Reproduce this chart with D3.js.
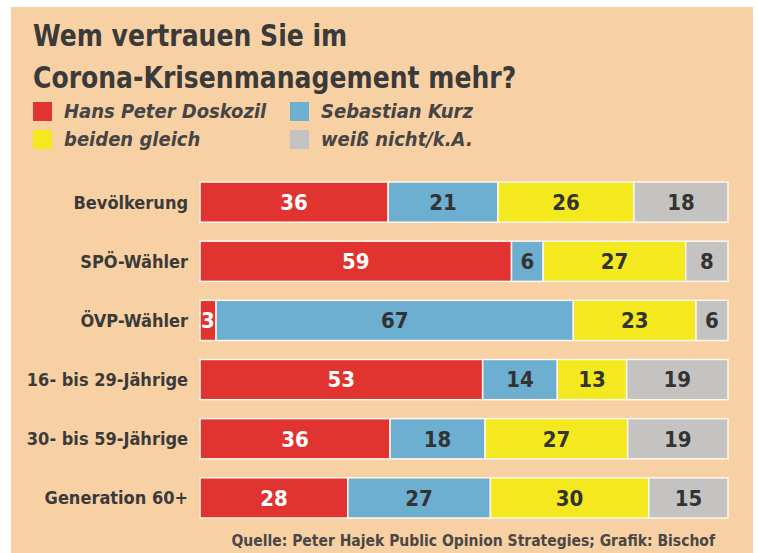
<!DOCTYPE html>
<html>
<head>
<meta charset="utf-8">
<script src="https://cdn.jsdelivr.net/npm/d3@7"></script>
<style>
  html, body { margin: 0; padding: 0; background: #fff; }
  svg text { font-family: "DejaVu Sans Condensed", "DejaVu Sans", sans-serif; font-stretch: condensed; }
</style>
</head>
<body>
<div id="chart"></div>
<script>
var groups = ['Bevölkerung', 'SPÖ-Wähler', 'ÖVP-Wähler', '16- bis 29-Jährige', '30- bis 59-Jährige', 'Generation 60+'],
    keys = ['doskozil', 'kurz', 'gleich', 'weissnicht'],
    keyLabels = ['Hans Peter Doskozil', 'Sebastian Kurz', 'beiden gleich', 'weiß nicht/k.A.'],
    doskozil = [36, 59, 3, 53, 36, 28],
    kurz = [21, 6, 67, 14, 18, 27],
    gleich = [26, 27, 23, 13, 27, 30],
    weissnicht = [18, 8, 6, 19, 19, 15];

var colors = ['#e1332f', '#6cafd0', '#f4e81e', '#c4c3c1'],
    textColors = ['#ffffff', '#333333', '#333333', '#333333'],
    width = 758,
    height = 553;

var rows = groups.map(function (g, i) {
    return {group: g, doskozil: doskozil[i], kurz: kurz[i], gleich: gleich[i], weissnicht: weissnicht[i]};
});

var svg = d3.select('#chart').append('svg')
    .attr('width', width)
    .attr('height', height);

// peach panel
svg.append('rect')
    .attr('x', 11).attr('y', 7)
    .attr('width', 742).attr('height', height - 7)
    .style('fill', '#f7d0a3');

// title, squeezed a little to match the condensed original
svg.selectAll('.title')
    .data(['Wem vertrauen Sie im', 'Corona-Krisenmanagement mehr?'])
    .enter().append('text')
    .attr('transform', function (d, i) { return 'translate(33,' + (46 + i * 42) + ') scale(0.93,1)'; })
    .style('font-size', '30px')
    .style('font-weight', 'bold')
    .style('fill', '#3b3a3a')
    .text(function (d) { return d; });

// legend
var legend = svg.selectAll('.legend')
    .data(keyLabels)
    .enter().append('g')
    .attr('transform', function (d, i) {
        return 'translate(' + (33 + (i % 2) * 257) + ',' + (102 + Math.floor(i / 2) * 28) + ')';
    });
legend.append('rect')
    .attr('width', 19).attr('height', 19)
    .style('fill', function (d, i) { return colors[i === 1 ? 1 : i === 2 ? 2 : i]; });
legend.append('text')
    .attr('x', 31)
    .attr('y', 16)
    .style('font-size', '20px')
    .style('font-style', 'italic')
    .style('font-weight', 'bold')
    .style('fill', '#464444')
    .text(function (d) { return d; });

var x = d3.scaleLinear().domain([0, 1]).range([200, 728]),
    y = d3.scaleBand().domain(groups).range([182, 518]).paddingInner(0.32);

var series = d3.stack().keys(keys).offset(d3.stackOffsetExpand)(rows);

svg.append('g').selectAll('text')
    .data(groups)
    .enter().append('text')
    .attr('x', 188)
    .attr('y', function (d) { return y(d) + y.bandwidth() / 2; })
    .attr('dy', '0.36em')
    .attr('text-anchor', 'end')
    .style('font-size', '18px')
    .style('font-weight', 'bold')
    .style('fill', '#3b3a3a')
    .text(function (d) { return d; });

var layer = svg.append('g').selectAll('g')
    .data(series)
    .enter().append('g');

layer.selectAll('rect')
    .data(function (s, si) { return s.map(function (p) { return {p: p, si: si}; }); })
    .enter().append('rect')
    .attr('x', function (d) { return x(d.p[0]); })
    .attr('y', function (d) { return y(d.p.data.group); })
    .attr('width', function (d) { return x(d.p[1]) - x(d.p[0]); })
    .attr('height', y.bandwidth())
    .style('fill', function (d) { return colors[d.si]; })
    .style('stroke', '#fff7ee')
    .style('stroke-width', 1.5);

layer.selectAll('text')
    .data(function (s, si) { return s.map(function (p) { return {p: p, si: si, key: s.key}; }); })
    .enter().append('text')
    .attr('x', function (d) { return (x(d.p[0]) + x(d.p[1])) / 2; })
    .attr('y', function (d) { return y(d.p.data.group) + y.bandwidth() / 2; })
    .attr('dy', '0.36em')
    .attr('text-anchor', 'middle')
    .style('font-size', '22px')
    .style('font-weight', 'bold')
    .style('fill', function (d) { return textColors[d.si]; })
    .text(function (d) { return d.p.data[d.key]; });

svg.append('text')
    .attr('x', 715)
    .attr('y', 546)
    .attr('text-anchor', 'end')
    .style('font-size', '15.5px')
    .style('font-weight', 'bold')
    .style('fill', '#4a4747')
    .text('Quelle: Peter Hajek Public Opinion Strategies; Grafik: Bischof');
</script>
</body>
</html>
